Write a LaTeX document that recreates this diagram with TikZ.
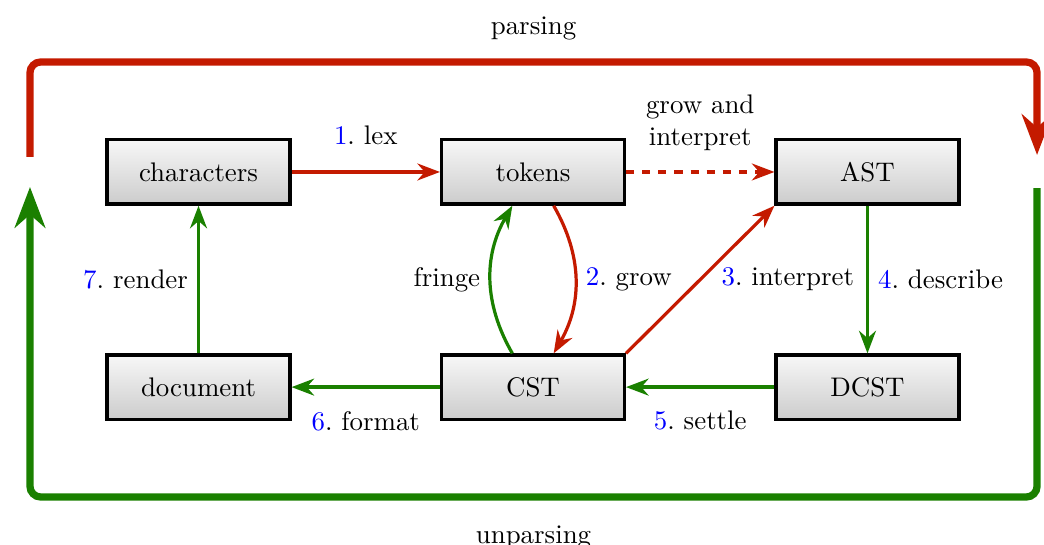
\documentclass[tikz,border=0pt]{standalone}
\usepackage{tikz}
\usetikzlibrary{arrows.meta,positioning}
\definecolor{parsered}{RGB}{196,26,0}
\definecolor{unparsegreen}{RGB}{26,128,0}
\def\stepnum#1{{\color{blue}#1}.\ }

\begin{document}
\begin{tikzpicture}[
	node distance=1.93cm and 1.94cm,
	stage/.style={draw, very thick, top color=black!3, bottom color=black!20, minimum width=2.39cm, minimum height=0.84cm},
	fwd/.style={parsered, very thick, -Stealth},
	bwd/.style={unparsegreen, very thick, -Stealth},
	bigloop/.style={line width=2.7pt, rounded corners=4pt, -Stealth}
	]
	%%%%% START %%%%%
	
	\useasboundingbox (0,0) rectangle (13.647,-7.124);
	
	% stages
	\node[stage] (chars) at (2.595,-2.248) {characters};
	\node[stage, right=of chars] (tokens) {tokens};
	\node[stage, right=of tokens] (ast) {AST};
	\node[stage, below=of chars] (doc) {document};
	\node[stage, below=of tokens] (cst) {CST};
	\node[stage, below=of ast] (dcst) {DCST};
	
	% parsing steps
	\draw[fwd] (chars) -- node[above=6pt, black] {\stepnum{1}lex} (tokens);
	\draw[fwd, dashed] (tokens) -- node[above=4pt, black, align=center] {grow and\\interpret} (ast);
	\draw[fwd] ([xshift=0.27cm]tokens.south) to[bend left=30] node[right, black] {\stepnum{2}grow} ([xshift=0.27cm]cst.north);
	\draw[fwd] (cst.north east) -- node[right=4pt, black] {\stepnum{3}interpret} (ast.south west);
	
	% unparsing steps
	\draw[bwd] (ast) -- node[right, black] {\stepnum{4}describe} (dcst);
	\draw[bwd] (dcst) -- node[below=5pt, black] {\stepnum{5}settle} (cst);
	\draw[bwd] (cst) -- node[below=5pt, black] {\stepnum{6}format} (doc);
	\draw[bwd] (doc) -- node[left, black] {\stepnum{7}render} (chars);
	\draw[bwd] ([xshift=-0.27cm]cst.north) to[bend left=30] node[left, black] {fringe} ([xshift=-0.27cm]tokens.south);
	
	% outer loops
	\coordinate (parse start) at (0.392,-2.052);
	\coordinate (parse end) at (13.556,-2.026);
	\coordinate (unparse start) at (13.556,-2.458);
	\coordinate (unparse end) at (0.392,-2.444);
	\draw[bigloop, parsered] (parse start) -- (0.392,-0.81) -- node[above=3.5pt, black] {parsing} (13.556,-0.81) -- (parse end);
	\draw[bigloop, unparsegreen] (unparse start) -- (13.556,-6.497) -- node[below=6pt, black] {unparsing} (0.392,-6.497) -- (unparse end);
	
	%%%%% END %%%%%
\end{tikzpicture}
\end{document}
